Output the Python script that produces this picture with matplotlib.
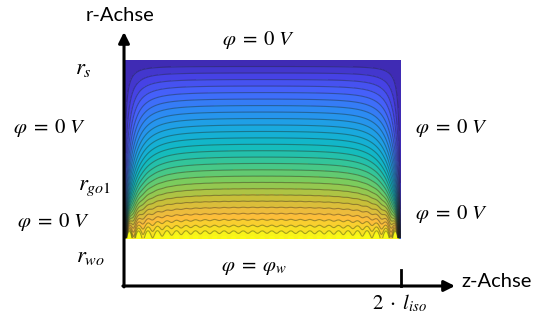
import numpy as np
import matplotlib.pyplot as plt
from matplotlib.colors import LinearSegmentedColormap

plt.rcParams["mathtext.fontset"] = "stix"

# geometry (z in units of 2*l_iso, r in units of r_s)
z_end = 1.0
r_wo = 0.212
r_s = 1.0
aspect_phys = 5.0      # length / gap ratio of the field region
decay_pow = 0.75       # how fast the higher modes die out towards r_s
n_max = 57             # highest odd Fourier term (gives the ripples near r_wo)
n_levels = 28

# boundary labels
label_top = r"$\varphi\;=\;0\;V$"
label_bottom = r"$\varphi\;=\;\varphi_w$"
label_side = r"$\varphi\;=\;0\;V$"
r_labels = [r"$r_s$", r"$r_{go1}$", r"$r_{wo}$"]
r_label_pos = [0.969, 0.442, 0.137]
r_label_x = [-0.148, -0.105, -0.120]

# MATLAB parula (approximate anchors)
parula_pts = [
    (0.00, (0.2422, 0.1504, 0.6603)),
    (0.08, (0.2760, 0.2500, 0.8900)),
    (0.17, (0.2700, 0.3900, 0.9900)),
    (0.27, (0.1700, 0.5500, 0.9500)),
    (0.37, (0.1000, 0.6600, 0.8800)),
    (0.47, (0.0600, 0.7300, 0.7600)),
    (0.57, (0.2300, 0.7800, 0.5700)),
    (0.67, (0.5000, 0.8000, 0.3500)),
    (0.77, (0.7900, 0.7500, 0.2200)),
    (0.87, (0.9900, 0.7300, 0.2400)),
    (0.94, (0.9700, 0.8600, 0.1500)),
    (1.00, (0.9769, 0.9839, 0.0805)),
]
parula = LinearSegmentedColormap.from_list("parula", parula_pts)

# potential field: Fourier series in z, phi=0 on top/sides, phi=phi_w at r_wo
z = np.linspace(0, z_end, 900)
r = np.linspace(r_wo, r_s, 500)
Z, R = np.meshgrid(z, r)
u = (R - r_wo) / (r_s - r_wo)
phi = np.zeros_like(Z)
for n in range(1, n_max + 1, 2):
    k = np.pi / aspect_phys * n ** decay_pow
    ratio = np.exp(-k * u) * (1 - np.exp(-2 * k * (1 - u))) / (1 - np.exp(-2 * k))
    phi += 4 / (n * np.pi) * np.sin(n * np.pi * Z / z_end) * ratio

fig = plt.figure(figsize=(5.41, 3.25), dpi=100)
ax = fig.add_axes([0, 0, 1, 1])
ax.set_xlim(-0.4485, 1.5081)
ax.set_ylim(-0.1726, 1.2655)
ax.axis("off")

levels = np.linspace(0, 1, n_levels + 1)
ax.contourf(Z, R, phi, levels=levels, cmap=parula, extend="both")
ax.contour(Z, R, phi, levels=levels[1:-1], colors="#202020", linewidths=0.8, alpha=0.4)

# axes arrows
arrow = dict(arrowstyle="-|>", color="black", lw=2.2, mutation_scale=16, shrinkA=0, shrinkB=0)
ax.annotate("", xy=(0, 1.124), xytext=(0, -0.004), arrowprops=arrow)
ax.annotate("", xy=(1.197, 0), xytext=(-0.004, 0), arrowprops=arrow)
ax.plot([z_end, z_end], [0, 0.07], color="black", lw=2)

ax.text(-0.0145, 1.195, "r-Achse", fontsize=14.5, family="Lato", ha="center", va="center")
ax.text(1.349, 0.022, "z-Achse", fontsize=14.5, family="Lato", ha="center", va="center")
ax.text(0.998, -0.075, r"$2\;\cdot\;l_{iso}$", fontsize=15, ha="center", va="center")

ax.text(0.485, 1.088, label_top, fontsize=15, ha="center", va="center")
ax.text(0.47, 0.085, label_bottom, fontsize=15, ha="center", va="center")
ax.text(-0.271, 0.699, label_side, fontsize=15, ha="center", va="center")
ax.text(-0.257, 0.283, label_side, fontsize=15, ha="center", va="center")
ax.text(1.183, 0.699, label_side, fontsize=15, ha="center", va="center")
ax.text(1.183, 0.319, label_side, fontsize=15, ha="center", va="center")

for lab, x, y in zip(r_labels, r_label_x, r_label_pos):
    ax.text(x, y, lab, fontsize=16.5, ha="center", va="center")

fig.savefig("out.png", dpi=100)
